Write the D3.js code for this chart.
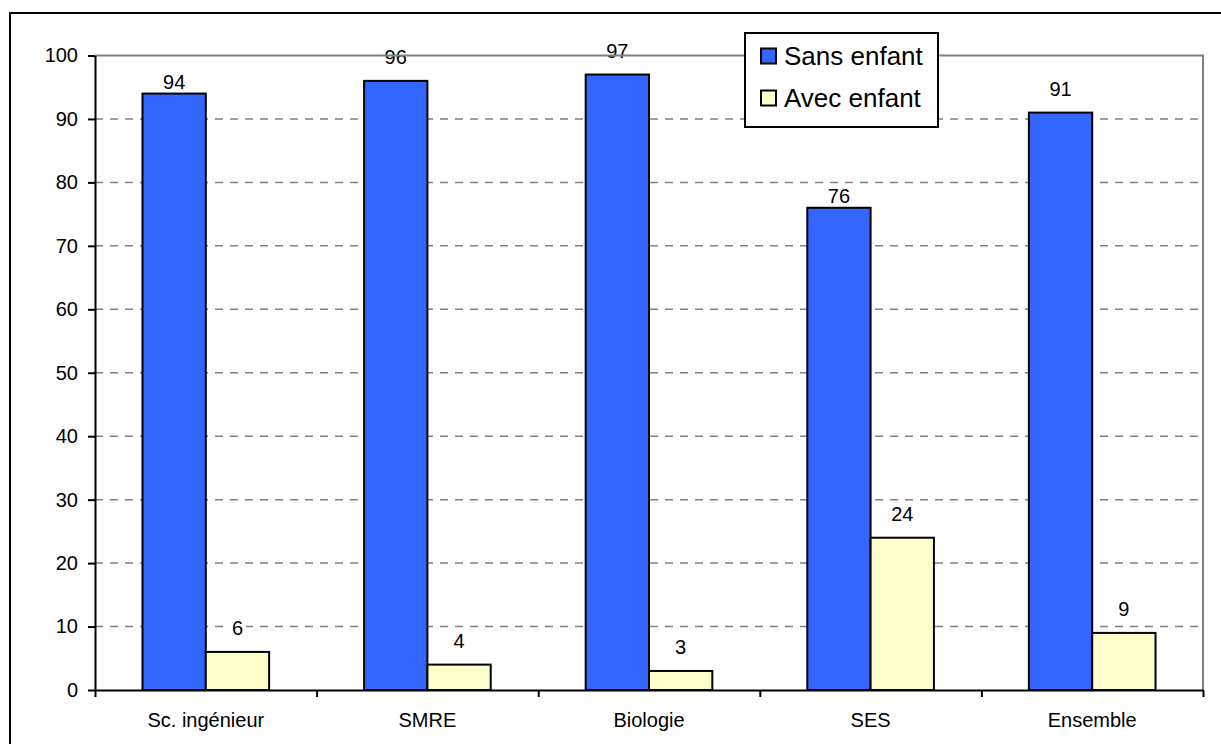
<!DOCTYPE html>
<html>
<head>
<meta charset="utf-8">
<script src="https://cdn.jsdelivr.net/npm/d3@7"></script>
<style>
  html, body { margin: 0; padding: 0; background: #fff; }
  svg { display: block; }
  text { font-family: "Liberation Sans", Arial, sans-serif; fill: #000; }
</style>
</head>
<body>
<svg id="chart" width="1221" height="744"></svg>
<script>
const categories = ["Sc. ingénieur", "SMRE", "Biologie", "SES", "Ensemble"];
const seriesNames = ["Sans enfant", "Avec enfant"];
const sansEnfant = [94, 96, 97, 76, 91];
const avecEnfant = [6, 4, 3, 24, 9];
const yTicks = [0, 10, 20, 30, 40, 50, 60, 70, 80, 90, 100];
const colors = ["#3366FF", "#FFFFCC"];

// label placement (layout config): labels that sit close to their bar top
const closeLabels = new Set(["Sc. ingénieur|Sans enfant", "SES|Sans enfant"]);

const svg = d3.select("#chart");

// outer frame
svg.append("rect")
  .attr("x", 10).attr("y", 13).attr("width", 1230).attr("height", 760)
  .attr("fill", "none").attr("stroke", "#000").attr("stroke-width", 2);

const plot = { left: 95, right: 1203, top: 55.5, bottom: 690 };

const y = d3.scaleLinear().domain([0, 100]).range([plot.bottom, plot.top]);
const x = d3.scaleBand().domain(categories).range([plot.left, plot.right]).padding(0);
const xIdx = d3.scaleLinear().domain([0, categories.length]).range([plot.left, plot.right]);

const barW = x.bandwidth() / 3.5;
const sub = d3.scaleBand().domain(seriesNames).range([0.75 * barW, 2.75 * barW]).padding(0);

// gridlines
svg.append("g").selectAll("line")
  .data(yTicks.filter(t => t > 0 && t < 100))
  .join("line")
  .attr("x1", plot.left).attr("x2", plot.right)
  .attr("y1", d => y(d)).attr("y2", d => y(d))
  .attr("stroke", "#808080").attr("stroke-width", 1.5)
  .attr("stroke-dasharray", "8,7");

// bars
const data = categories.map((c, i) => ({ cat: c, vals: [sansEnfant[i], avecEnfant[i]] }));
const groups = svg.append("g").selectAll("g")
  .data(data).join("g")
  .attr("transform", d => `translate(${x(d.cat)},0)`);

const items = d => d.vals.map((v, j) => ({ cat: d.cat, name: seriesNames[j], v, j }));

groups.selectAll("rect.bar")
  .data(items)
  .join("rect")
  .attr("class", "bar")
  .attr("x", d => sub(d.name))
  .attr("width", sub.bandwidth())
  .attr("y", d => y(d.v))
  .attr("height", d => y(0) - y(d.v))
  .attr("fill", d => colors[d.j])
  .attr("stroke", "#000").attr("stroke-width", 2);

const labelBase = d => y(d.v) - (closeLabels.has(d.cat + "|" + d.name) ? 5 : 17);

// label backgrounds (white) hiding gridlines
groups.selectAll("rect.lblbg")
  .data(items)
  .join("rect")
  .attr("class", "lblbg")
  .attr("x", d => sub(d.name) + sub.bandwidth() / 2 - (String(d.v).length * 11 + 6) / 2)
  .attr("width", d => String(d.v).length * 11 + 6)
  .attr("y", d => labelBase(d) - 16)
  .attr("height", 18)
  .attr("fill", "#fff");

// plot area top/right border (gray)
svg.append("path")
  .attr("d", `M${plot.left},${y(100)}H${plot.right}V${plot.bottom}`)
  .attr("fill", "none").attr("stroke", "#808080").attr("stroke-width", 2);

groups.selectAll("text.val")
  .data(items)
  .join("text")
  .attr("class", "val")
  .attr("x", d => sub(d.name) + sub.bandwidth() / 2)
  .attr("y", labelBase)
  .attr("text-anchor", "middle")
  .style("font-size", "20px")
  .text(d => d.v);

// y axis
const yAxis = svg.append("g")
  .attr("transform", `translate(${plot.left},0)`)
  .call(d3.axisLeft(y).tickValues(yTicks).tickSize(7).tickSizeOuter(0).tickPadding(10));
yAxis.select(".domain").attr("stroke", "#000").attr("stroke-width", 2);
yAxis.selectAll(".tick line").attr("stroke", "#000").attr("stroke-width", 2);
yAxis.selectAll(".tick text").style("font-size", "20px").attr("fill", "#000")
  .style("font-family", "'Liberation Sans', Arial, sans-serif");

// x axis (boundary ticks)
const xAxis = svg.append("g")
  .attr("transform", `translate(0,${plot.bottom})`)
  .call(d3.axisBottom(xIdx).tickValues(d3.range(categories.length + 1)).tickFormat("").tickSize(7).tickSizeOuter(0));
xAxis.select(".domain").attr("stroke", "#000").attr("stroke-width", 2);
xAxis.selectAll(".tick line").attr("stroke", "#000").attr("stroke-width", 2);

// category labels
const xLab = svg.append("g")
  .attr("transform", `translate(0,${plot.bottom})`)
  .call(d3.axisBottom(x).tickSize(0).tickPadding(0));
xLab.select(".domain").remove();
xLab.selectAll(".tick text")
  .attr("y", 37).attr("dy", null)
  .style("font-size", "20px").attr("fill", "#000")
  .style("font-family", "'Liberation Sans', Arial, sans-serif");

// legend
const legend = svg.append("g");
legend.append("rect")
  .attr("x", 745).attr("y", 33).attr("width", 193).attr("height", 94)
  .attr("fill", "#fff").attr("stroke", "#000").attr("stroke-width", 2);
const legY = [56, 98];
seriesNames.forEach((n, j) => {
  legend.append("rect")
    .attr("x", 761).attr("y", legY[j] - 7.5).attr("width", 15).attr("height", 15)
    .attr("fill", colors[j]).attr("stroke", "#000").attr("stroke-width", 2);
  legend.append("text")
    .attr("x", 784).attr("y", legY[j] + 9)
    .style("font-size", "26px")
    .text(n);
});
</script>
</body>
</html>
